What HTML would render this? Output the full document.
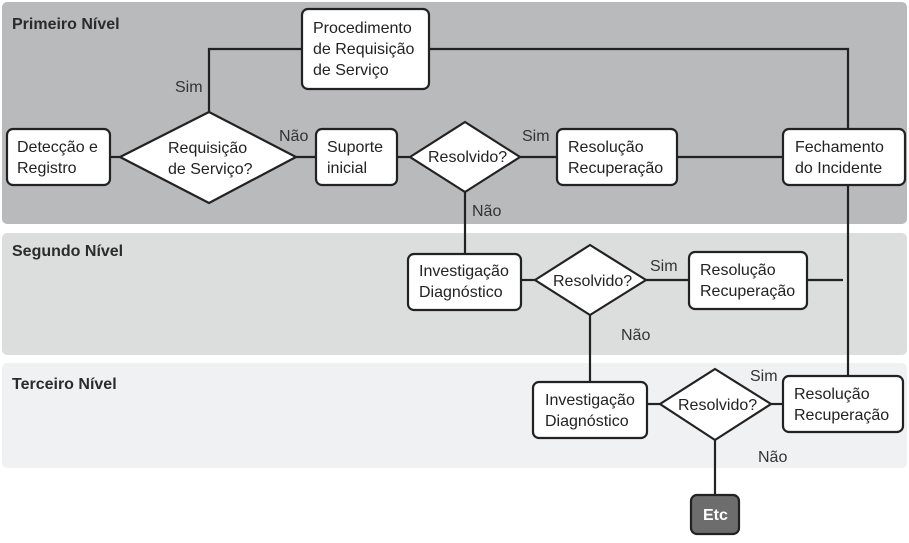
<!DOCTYPE html>
<html><head><meta charset="utf-8"><style>
html,body{margin:0;padding:0;background:#fff;}
svg{display:block;font-family:"Liberation Sans",sans-serif;}
</style></head><body>
<svg width="909" height="543" viewBox="0 0 909 543" xmlns="http://www.w3.org/2000/svg">
<rect x="2" y="2" width="905" height="222" rx="5" fill="#b9babc"/>
<rect x="2" y="233" width="905" height="122" rx="5" fill="#dcdddd"/>
<rect x="2" y="363" width="905" height="105" rx="5" fill="#f0f1f3"/>
<g font-weight="bold" font-size="16" fill="#2b2b2b">
<text x="12" y="29">Primeiro Nível</text>
<text x="12" y="256">Segundo Nível</text>
<text x="12" y="389">Terceiro Nível</text>
</g>
<g stroke="#222" stroke-width="2.2" fill="none">
<polyline points="209,112 209,49 302,49"/>
<polyline points="429,49 848,49 848,129"/>
<line x1="110" y1="157" x2="120" y2="157"/>
<line x1="296" y1="157" x2="316" y2="157"/>
<line x1="397" y1="157" x2="410" y2="157"/>
<line x1="520" y1="157" x2="557" y2="157"/>
<line x1="677" y1="157" x2="783" y2="157"/>
<line x1="848" y1="185" x2="848" y2="376"/>
<line x1="465" y1="192" x2="465" y2="254"/>
<line x1="521" y1="280" x2="535" y2="280"/>
<line x1="646" y1="280" x2="689" y2="280"/>
<line x1="807" y1="280" x2="843" y2="280"/>
<line x1="590" y1="315" x2="590" y2="382"/>
<line x1="647" y1="404" x2="660" y2="404"/>
<line x1="771" y1="404" x2="783" y2="404"/>
<line x1="715" y1="440" x2="715" y2="495"/>
</g>
<g fill="#fff" stroke="#222" stroke-width="2.2">
<rect x="7" y="129" width="103" height="56" rx="6"/>
<polygon points="120,157 209,112 296,157 209,203"/>
<rect x="316" y="129" width="81" height="56" rx="6"/>
<polygon points="410,157 465,122 520,157 465,192"/>
<rect x="557" y="129" width="120" height="56" rx="6"/>
<rect x="783" y="129" width="122" height="56" rx="6"/>
<rect x="302" y="9" width="127" height="80" rx="6"/>
<rect x="408" y="254" width="113" height="56" rx="6"/>
<polygon points="535,280 590,245 646,280 590,315"/>
<rect x="689" y="252" width="118" height="57" rx="6"/>
<rect x="533" y="382" width="114" height="56" rx="6"/>
<polygon points="660,404 715,369 771,404 715,440"/>
<rect x="783" y="376" width="120" height="56" rx="6"/>
<rect x="691" y="495" width="48" height="39" rx="6" fill="#6d6d6d"/>
</g>
<g font-size="16" fill="#222">
<text x="17" y="152">Detecção e</text><text x="17" y="173">Registro</text>
<text x="168" y="153">Requisição</text><text x="168" y="174">de Serviço?</text>
<text x="327" y="152">Suporte</text><text x="327" y="173">inicial</text>
<text x="428" y="162">Resolvido?</text>
<text x="568" y="152">Resolução</text><text x="568" y="173">Recuperação</text>
<text x="795" y="152">Fechamento</text><text x="795" y="173">do Incidente</text>
<text x="313" y="33">Procedimento</text><text x="313" y="54">de Requisição</text><text x="313" y="75">de Serviço</text>
<text x="419" y="276">Investigação</text><text x="419" y="297">Diagnóstico</text>
<text x="553" y="286">Resolvido?</text>
<text x="700" y="275">Resolução</text><text x="700" y="296">Recuperação</text>
<text x="545" y="405">Investigação</text><text x="545" y="426">Diagnóstico</text>
<text x="678" y="410">Resolvido?</text>
<text x="794" y="399">Resolução</text><text x="794" y="420">Recuperação</text>
</g>
<g font-size="16" fill="#333">
<text x="175" y="92">Sim</text>
<text x="279" y="141">Não</text>
<text x="522" y="141">Sim</text>
<text x="472" y="216">Não</text>
<text x="650" y="271">Sim</text>
<text x="621" y="340">Não</text>
<text x="750" y="381">Sim</text>
<text x="758" y="462">Não</text>
</g>
<text x="703" y="520" font-size="16" font-weight="bold" fill="#fff">Etc</text>
</svg>
</body></html>
